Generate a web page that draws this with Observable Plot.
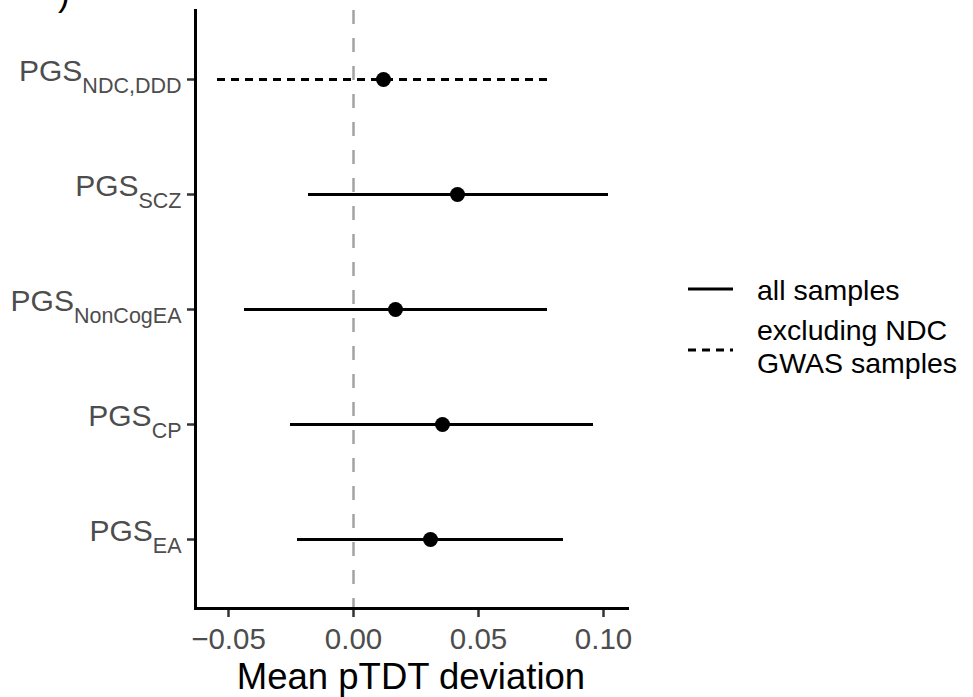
<!DOCTYPE html>
<html>
<head>
<meta charset="utf-8">
<script src="https://cdn.jsdelivr.net/npm/d3@7"></script>
<script src="https://cdn.jsdelivr.net/npm/@observablehq/plot@0.6"></script>
<style>
  html, body { margin: 0; padding: 0; background: #fff; }
  #chart { position: relative; width: 973px; height: 697px; }
  svg { font-family: "Liberation Sans", Arial, Helvetica, sans-serif; }
</style>
</head>
<body>
<div id="chart"></div>
<script>
// ---- data ----
const categories = ["NDC,DDD", "SCZ", "NonCogEA", "CP", "EA"];
const estimates  = [0.012, 0.0416, 0.0168, 0.0356, 0.0308];
const lowers     = [-0.0544, -0.018, -0.0436, -0.0252, -0.0224];
const uppers     = [0.0796, 0.102, 0.0776, 0.096, 0.084];
const sampleSets = ["excluding NDC GWAS samples", "all samples", "all samples", "all samples", "all samples"];
const xTicks     = [-0.05, 0, 0.05, 0.10];
const legendLabels = ["all samples", "excluding NDC GWAS samples"];
const xTitle = "Mean pTDT deviation";

const rows = categories.map((c, i) => ({
  cat: c, est: estimates[i], lo: lowers[i], hi: uppers[i], set: sampleSets[i]
}));

const plot = Plot.plot({
  width: 973,
  height: 697,
  marginLeft: 195,
  marginRight: 346,
  marginTop: 10,
  marginBottom: 89,
  style: { fontFamily: "Liberation Sans, Arial, sans-serif", background: "white" },
  x: { domain: [-0.0632, 0.1096] },
  y: { type: "point", domain: categories, padding: 0.58 },
  marks: [
    Plot.ruleX([0], { stroke: "#a3a3a3", strokeWidth: 2.5, strokeDasharray: "14,14" }),
    Plot.ruleY(rows.filter(d => d.set === "all samples"),
      { y: "cat", x1: "lo", x2: "hi", stroke: "black", strokeWidth: 3 }),
    Plot.ruleY(rows.filter(d => d.set !== "all samples"),
      { y: "cat", x1: "lo", x2: "hi", stroke: "black", strokeWidth: 3, strokeDasharray: "8,6" }),
    Plot.dot(rows, { x: "est", y: "cat", r: 7.5, fill: "black", stroke: "none" }),
    Plot.axisX({ ticks: xTicks, tickFormat: d3.format(".2f"), tickSize: 9, tickPadding: 11,
      fontSize: 29.5, fill: "#4d4d4d", stroke: "#333", strokeWidth: 2.5, label: null }),
    Plot.axisY({ tickSize: 8, tickPadding: 6, fontSize: 30, fill: "#4d4d4d",
      stroke: "#333", strokeWidth: 2.5, label: null }),
    Plot.frame({ anchor: "left", stroke: "black", strokeWidth: 3 }),
    Plot.frame({ anchor: "bottom", stroke: "black", strokeWidth: 3 })
  ]
});

document.getElementById("chart").appendChild(plot);
const svg = d3.select(plot);

// subscripted y tick labels
svg.selectAll('g[aria-label="y-axis tick label"] text').each(function () {
  const t = d3.select(this);
  const name = t.text();
  t.text("").attr("dy", "-0.28em");
  t.append("tspan").text("PGS");
  t.append("tspan").attr("dy", 12).attr("font-size", 21.5).text(name);
});

// x-axis title
svg.append("text")
  .attr("x", 411).attr("y", 689)
  .attr("text-anchor", "middle")
  .attr("font-size", 36.5)
  .attr("fill", "black")
  .text(xTitle);

// cropped panel tag fragment
svg.append("text")
  .attr("x", 58).attr("y", 6)
  .attr("text-anchor", "start")
  .attr("font-size", 35)
  .attr("fill", "black")
  .text(")");

// legend
const lg = svg.append("g").attr("font-size", 28.5).attr("fill", "black").attr("text-anchor", "start");
lg.append("line").attr("x1", 688).attr("x2", 733).attr("y1", 289).attr("y2", 289)
  .attr("stroke", "black").attr("stroke-width", 3);
lg.append("text").attr("x", 757).attr("y", 300).text(legendLabels[0]);
lg.append("line").attr("x1", 688).attr("x2", 733).attr("y1", 350).attr("y2", 350)
  .attr("stroke", "black").attr("stroke-width", 3).attr("stroke-dasharray", "8,6");
lg.append("text").attr("x", 757).attr("y", 340).text("excluding NDC");
lg.append("text").attr("x", 757).attr("y", 373).text("GWAS samples");
</script>
</body>
</html>
